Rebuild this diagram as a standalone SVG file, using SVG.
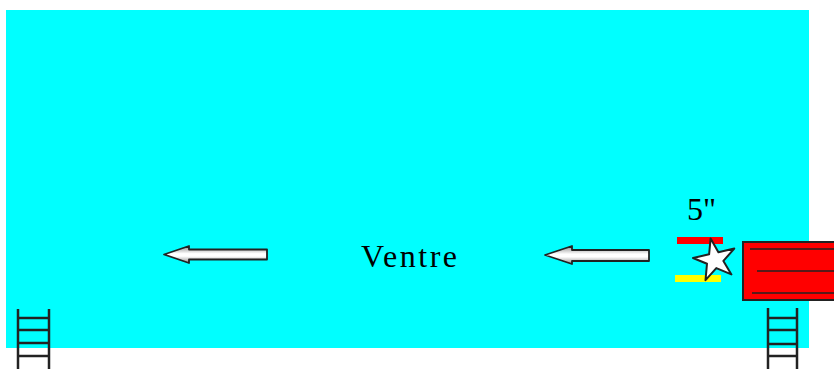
<svg xmlns="http://www.w3.org/2000/svg" width="834" height="369" viewBox="0 0 834 369">
<defs>
<linearGradient id="cyl" x1="0" y1="0" x2="0" y2="1">
<stop offset="0" stop-color="#8a8a8a"/>
<stop offset="0.45" stop-color="#ffffff"/>
<stop offset="0.6" stop-color="#ffffff"/>
<stop offset="1" stop-color="#8a8a8a"/>
</linearGradient>
<style>
.arrow{fill:url(#cyl);stroke:#222;stroke-width:1.8;stroke-linejoin:round}
.ladder line{stroke:#222;stroke-width:2.5}
.txt{font-family:"Liberation Serif","Times New Roman",serif;fill:#000}
</style>
</defs>
<rect width="834" height="369" fill="#ffffff"/>
<rect id="pool" x="6" y="10" width="803" height="338" fill="#00ffff"/>
<g id="ladder-left" class="ladder">
<line x1="18" y1="309" x2="18" y2="369"/>
<line x1="49" y1="309" x2="49" y2="369"/>
<line x1="18" y1="318" x2="49" y2="318"/>
<line x1="18" y1="330" x2="49" y2="330"/>
<line x1="18" y1="343" x2="49" y2="343"/>
<line x1="18" y1="356" x2="49" y2="356"/>
</g>
<g id="ladder-right" class="ladder">
<line x1="768" y1="308" x2="768" y2="369"/>
<line x1="797" y1="308" x2="797" y2="369"/>
<line x1="768" y1="318" x2="797" y2="318"/>
<line x1="768" y1="330" x2="797" y2="330"/>
<line x1="768" y1="344" x2="797" y2="344"/>
<line x1="768" y1="356" x2="797" y2="356"/>
</g>
<g id="connectors">
<path id="arrow-left" class="arrow" d="M164,254.5 L189,246 L189,249.5 L267,249.5 L267,259.5 L189,259.5 L189,263 Z"/>
<path id="arrow-right" class="arrow" d="M545,255 L572,246 L572,250 L649,250 L649,261 L572,261 L572,264 Z"/>
</g>
<g id="label-ventre">
<text class="txt" x="361" y="267" font-size="32" textLength="96" lengthAdjust="spacing">Ventre</text>
</g>
<g id="label-5">
<text class="txt" x="687" y="220" font-size="32">5"</text>
</g>
<g id="start-marks">
<rect x="677" y="237" width="46" height="7" fill="#ff0000"/>
<rect x="675" y="275" width="46" height="7" fill="#ffff00"/>
<polygon fill="#ffffff" stroke="#222" stroke-width="2" stroke-linejoin="round" points="693,258 709.1,254.3 710.6,238.6 718.4,252.2 734.3,248.6 723.4,260.9 731.4,274.4 716.3,268.1 705.5,280.2 707.0,263.7"/>
</g>
<g id="board">
<rect x="743" y="242" width="95" height="58" fill="#ff0000" stroke="#222" stroke-width="2"/>
<line x1="750" y1="249" x2="834" y2="249" stroke="#222" stroke-width="1.5"/>
<line x1="757" y1="271" x2="834" y2="271" stroke="#222" stroke-width="1.5"/>
<line x1="752" y1="293" x2="834" y2="293" stroke="#222" stroke-width="1.5"/>
</g>
</svg>
